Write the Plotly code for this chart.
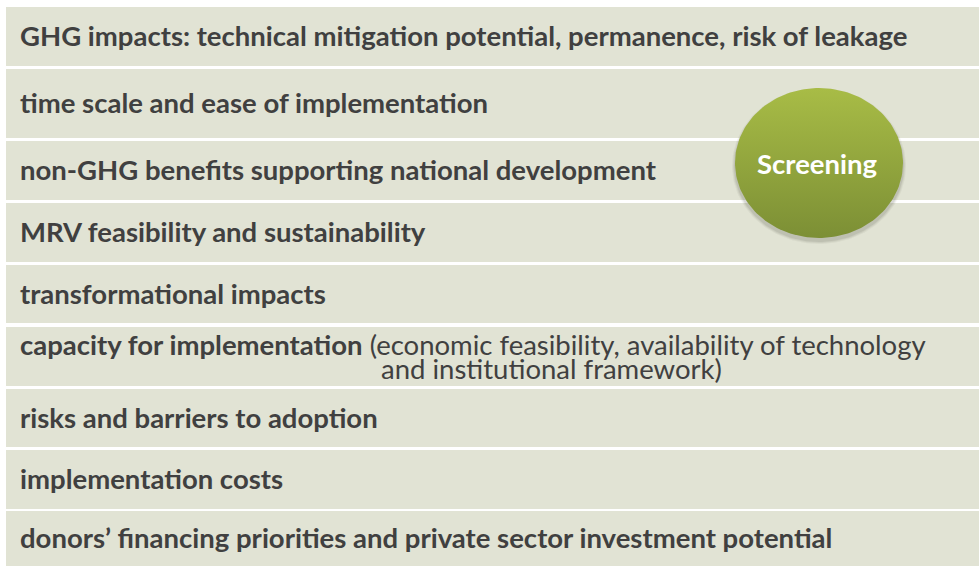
import numpy as np
import plotly.graph_objects as go

# Criteria listed in the screening table (top to bottom)
criteria_bold = [
    "GHG impacts: technical mitigation potential, permanence, risk of leakage",
    "time scale and ease of implementation",
    "non-GHG benefits supporting national development",
    "MRV feasibility and sustainability",
    "transformational impacts",
    "capacity for implementation",
    "risks and barriers to adoption",
    "implementation costs",
    "donors\u2019 financing priorities and private sector investment potential",
]
criteria_note_line1 = [None, None, None, None, None,
                       " (economic feasibility, availability of technology", None, None, None]
criteria_note_line2 = [None, None, None, None, None,
                       "and institutional framework)", None, None, None]
stage_label = "Screening"

# layout (pixel space)
W, H = 979, 566
band_top = [7, 69, 141, 203, 265, 327, 389, 450, 511]
band_bot = [66, 138, 200, 262, 323, 386, 447, 509, 566]
band_left, band_right = 6, 979
band_color = "#E1E3D4"
text_color = "#404040"
FONT = "Lato"
FS = 27.5

fig = go.Figure()
shapes, annotations = [], []
for i, txt in enumerate(criteria_bold):
    t, b = band_top[i], band_bot[i]
    shapes.append(dict(type="rect", xref="x", yref="y", x0=band_left, x1=band_right,
                       y0=t, y1=b, fillcolor=band_color, line=dict(width=0), layer="below"))
    yc = (t + b) / 2
    if criteria_note_line1[i]:
        annotations.append(dict(x=18, y=yc - 12, xref="x", yref="y", xanchor="left", yanchor="middle",
                                text="<b>" + txt + "</b>" + criteria_note_line1[i], showarrow=False,
                                font=dict(family=FONT, size=FS, color=text_color)))
        annotations.append(dict(x=379, y=yc + 12, xref="x", yref="y", xanchor="left", yanchor="middle",
                                text=criteria_note_line2[i], showarrow=False,
                                font=dict(family=FONT, size=FS, color=text_color)))
    else:
        annotations.append(dict(x=18, y=yc - 1, xref="x", yref="y", xanchor="left", yanchor="middle",
                                text="<b>" + txt + "</b>", showarrow=False,
                                font=dict(family=FONT, size=FS, color=text_color)))

# stage bubble
cx, cy, rx, ry = 819, 163, 84, 75
th = np.linspace(0, 2 * np.pi, 181)
for k, a in [(6, 0.05), (4, 0.07), (2, 0.09)]:
    fig.add_trace(go.Scatter(x=cx + (rx + k / 2) * np.cos(th), y=cy + 3 + (ry + k / 2) * np.sin(th),
                             mode="lines", fill="toself", line=dict(width=0),
                             fillcolor=f"rgba(60,60,40,{a})", hoverinfo="skip", showlegend=False))
fig.add_trace(go.Scatter(x=cx + rx * np.cos(th), y=cy + ry * np.sin(th), mode="lines",
                         fill="toself", line=dict(width=0, color="rgba(0,0,0,0)"),
                         fillgradient=dict(type="vertical",
                                           colorscale=[[0, "#7C8F35"], [1, "#A8BC46"]]),
                         hoverinfo="skip", showlegend=False))
annotations.append(dict(x=cx - 2, y=cy, xref="x", yref="y", text="<b>" + stage_label + "</b>",
                        showarrow=False, font=dict(family=FONT, size=FS, color="white")))

fig.update_layout(
    width=W, height=H, margin=dict(l=0, r=0, t=0, b=0),
    paper_bgcolor="white", plot_bgcolor="white",
    xaxis=dict(range=[0, W], visible=False, fixedrange=True),
    yaxis=dict(range=[H, 0], visible=False, fixedrange=True),
    shapes=shapes, annotations=annotations, showlegend=False,
)
fig.write_html("out.html", config={"displayModeBar": False},
               post_script="document.body.style.margin='0';document.body.style.overflow='hidden';")
